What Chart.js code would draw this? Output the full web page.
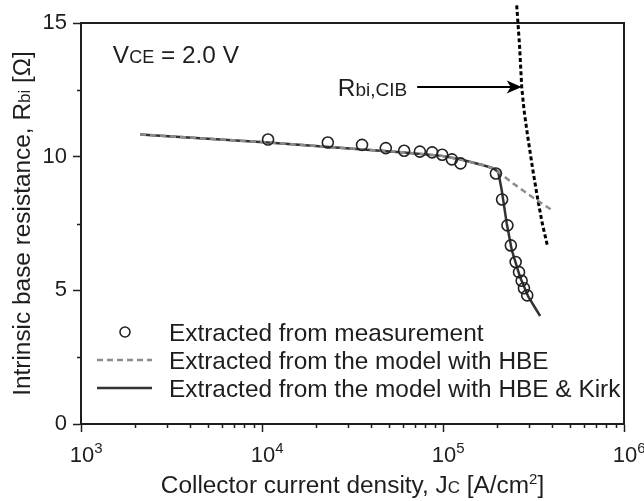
<!DOCTYPE html>
<html>
<head>
<meta charset="utf-8">
<script src="https://cdn.jsdelivr.net/npm/chart.js@4.4.1/dist/chart.umd.min.js"></script>
<style>
    html, body { margin: 0; padding: 0; background: #fff; }
    #wrap { width: 644px; height: 501px; position: relative; }
</style>
</head>
<body>
<div id="wrap"><canvas id="Chart"></canvas></div>
<script>
// measured points, Jc in A/cm2, Rbi in ohm
var measJc = [10800, 23100, 35700, 48300, 61000, 74500, 87100, 99000, 112000, 125000,
    196000, 212000, 227000, 237000, 252000, 263000, 272000, 280000, 292000];
var measRbi = [10.64, 10.53, 10.44, 10.32, 10.22, 10.19, 10.16, 10.07, 9.90, 9.75,
    9.37, 8.40, 7.43, 6.68, 6.06, 5.68, 5.36, 5.08, 4.81];

// model with high-current base effect only
var hbeJc = [2120, 10800, 60800, 98600, 124000, 167000, 190000, 202000, 244000, 330000, 407000];
var hbeRbi = [10.83, 10.53, 10.16, 10.03, 9.90, 9.68, 9.56, 9.43, 9.00, 8.37, 7.97];

// model with HBE and Kirk effect
var kirkJc = [2120, 10800, 60800, 98600, 124000, 167000, 190000, 202000, 211000, 225000,
    240000, 266000, 296000, 344000];
var kirkRbi = [10.83, 10.53, 10.16, 10.03, 9.90, 9.68, 9.56, 9.43, 8.75, 7.50,
    6.50, 5.51, 4.76, 4.04];

// current-induced base pushout curve
var cibJc = [255400, 264700, 272200, 280300, 293100, 312400, 330800, 352400, 378000];
var cibRbi = [15.66, 14.17, 12.61, 11.74, 10.80, 9.57, 8.56, 7.55, 6.65];

var seriesNames = [
    'Extracted from measurement',
    'Extracted from the model with HBE',
    'Extracted from the model with HBE & Kirk'
];

var xTickValues = [1e3, 1e4, 1e5, 1e6];
var xTickExponents = ['3', '4', '5', '6'];
var yTickValues = [0, 5, 10, 15];
var yMinorTicks = [2.5, 7.5, 12.5];

var FONT = '"Liberation Sans", Arial, Helvetica, sans-serif';
var INK = '#1e1e1e';
var TEXT = 24.4;

Chart.defaults.font.family = FONT;
Chart.defaults.color = INK;

function points(xs, ys) {
    return xs.map(function (x, i) { return { x: x, y: ys[i] }; });
}

// draws a line of text made of runs [text, size, rise]
function drawRuns(ctx, runs, x, y, align) {
    var total = 0;
    runs.forEach(function (r) {
        ctx.font = r[1] + 'px ' + FONT;
        total += ctx.measureText(r[0]).width;
    });
    var cx = align === 'center' ? x - total / 2 : (align === 'right' ? x - total : x);
    ctx.textAlign = 'left';
    ctx.textBaseline = 'alphabetic';
    runs.forEach(function (r) {
        ctx.font = r[1] + 'px ' + FONT;
        ctx.fillText(r[0], cx, y - (r[2] || 0));
        cx += ctx.measureText(r[0]).width;
    });
}

var decorations = {
    id: 'decorations',
    beforeDatasetsDraw: function (chart) {
        var ctx = chart.ctx, area = chart.chartArea;
        var xs = chart.scales.x, ys = chart.scales.y;
        ctx.save();
        ctx.strokeStyle = INK;
        ctx.lineWidth = 2;
        ctx.strokeRect(area.left, area.top, area.right - area.left, area.bottom - area.top);

        // minor ticks
        ctx.lineWidth = 1.5;
        ctx.beginPath();
        for (var e = 3; e < 6; e++) {
            for (var k = 2; k < 10; k++) {
                var px = Math.round(xs.getPixelForValue(k * Math.pow(10, e))) + 0.5;
                ctx.moveTo(px, area.bottom);
                ctx.lineTo(px, area.bottom + 4);
            }
        }
        yMinorTicks.forEach(function (v) {
            var py = Math.round(ys.getPixelForValue(v)) + 0.5;
            ctx.moveTo(area.left - 4, py);
            ctx.lineTo(area.left, py);
        });
        ctx.stroke();
        ctx.restore();
    },
    afterDraw: function (chart) {
        var ctx = chart.ctx, area = chart.chartArea;
        var xs = chart.scales.x, ys = chart.scales.y;
        var sets = chart.data.datasets;
        ctx.save();
        ctx.fillStyle = INK;

        // decade labels, "10" centred on the tick with a raised exponent
        xTickValues.forEach(function (v, i) {
            var px = xs.getPixelForValue(v);
            ctx.font = '22px ' + FONT;
            var w = ctx.measureText('10').width;
            drawRuns(ctx, [['10', 22], [xTickExponents[i], 15, 9]], px - w / 2 + 1, area.bottom + 38, 'left');
        });

        // axis titles
        drawRuns(ctx, [['Collector current density, J', TEXT], ['C', 17], [' [A/cm', TEXT], ['2', 15, 9], [']', TEXT]],
            (area.left + area.right) / 2, 493, 'center');
        ctx.save();
        ctx.translate(30, (area.top + area.bottom) / 2);
        ctx.rotate(-Math.PI / 2);
        drawRuns(ctx, [['Intrinsic base resistance, R', TEXT], ['bi', 17], [' [\u03a9]', TEXT]], 0, 0, 'center');
        ctx.restore();

        // operating point label
        drawRuns(ctx, [['V', TEXT], ['CE', 18], [' = 2.0 V', TEXT]],
            xs.getPixelForValue(1500), ys.getPixelForValue(13.5), 'left');

        // arrow to the CIB curve
        var tipX = xs.getPixelForValue(cibJc[2]);
        var tipY = ys.getPixelForValue(cibRbi[2]);
        var tailX = xs.getPixelForValue(7.2e4);
        ctx.strokeStyle = '#000';
        ctx.fillStyle = '#000';
        ctx.lineWidth = 2;
        ctx.beginPath();
        ctx.moveTo(tailX, tipY);
        ctx.lineTo(tipX - 10, tipY);
        ctx.stroke();
        ctx.beginPath();
        ctx.moveTo(tipX, tipY);
        ctx.lineTo(tipX - 15, tipY - 6.5);
        ctx.lineTo(tipX - 11, tipY);
        ctx.lineTo(tipX - 15, tipY + 6.5);
        ctx.closePath();
        ctx.fill();
        ctx.fillStyle = INK;
        drawRuns(ctx, [['R', TEXT], ['bi,CIB', 19]], tailX - 10, tipY + 9, 'right');

        // legend
        var rows = [area.bottom - 92, area.bottom - 64, area.bottom - 36];
        var x0 = area.left + 16, x1 = area.left + 71;
        ctx.strokeStyle = sets[0].pointBorderColor;
        ctx.lineWidth = sets[0].pointBorderWidth;
        ctx.beginPath();
        ctx.arc(area.left + 44, rows[0], 5, 0, Math.PI * 2);
        ctx.stroke();
        [1, 2].forEach(function (i) {
            ctx.strokeStyle = sets[i].borderColor;
            ctx.lineWidth = sets[i].borderWidth;
            ctx.setLineDash(sets[i].borderDash || []);
            ctx.beginPath();
            ctx.moveTo(x0, rows[i]);
            ctx.lineTo(x1, rows[i]);
            ctx.stroke();
        });
        ctx.setLineDash([]);
        ctx.fillStyle = INK;
        seriesNames.forEach(function (name, i) {
            drawRuns(ctx, [[name, TEXT]], area.left + 88, rows[i] + 8.5, 'left');
        });
        ctx.restore();
    }
};

new Chart(document.getElementById('Chart').getContext('2d'), {
    type: 'scatter',
    data: {
        datasets: [
            {
                label: seriesNames[0],
                data: points(measJc, measRbi),
                showLine: false,
                pointStyle: 'circle',
                pointRadius: 5.5,
                pointBorderWidth: 1.6,
                pointBorderColor: '#222',
                pointBackgroundColor: 'rgba(0,0,0,0)'
            },
            {
                label: seriesNames[1],
                data: points(hbeJc, hbeRbi),
                showLine: true,
                pointRadius: 0,
                borderColor: '#8c8c8c',
                borderWidth: 2.5,
                borderDash: [6, 4]
            },
            {
                label: seriesNames[2],
                data: points(kirkJc, kirkRbi),
                showLine: true,
                pointRadius: 0,
                borderColor: '#333',
                borderWidth: 2.5
            },
            {
                label: 'Rbi,CIB',
                data: points(cibJc, cibRbi),
                showLine: true,
                pointRadius: 0,
                borderColor: '#000',
                borderWidth: 3,
                borderDash: [4, 2.6],
                clip: false
            }
        ]
    },
    options: {
        responsive: true,
        maintainAspectRatio: false,
        animation: false,
        layout: { padding: { top: 23, right: 20, left: 0, bottom: 0 } },
        plugins: {
            legend: { display: false },
            tooltip: { enabled: false }
        },
        scales: {
            x: {
                type: 'logarithmic',
                min: 1e3,
                max: 1e6,
                afterBuildTicks: function (scale) {
                    scale.ticks = xTickValues.map(function (v) { return { value: v }; });
                },
                afterFit: function (scale) { scale.height = 77; },
                ticks: {
                    autoSkip: false,
                    maxRotation: 0,
                    callback: function () { return ''; }
                },
                grid: { drawOnChartArea: false, tickLength: 8, tickWidth: 1.5, tickColor: INK },
                border: { color: INK, width: 2 }
            },
            y: {
                min: 0,
                max: 15,
                afterBuildTicks: function (scale) {
                    scale.ticks = yTickValues.map(function (v) { return { value: v }; });
                },
                afterFit: function (scale) { scale.width = 81; },
                ticks: { padding: 6, font: { size: 22 }, color: INK },
                grid: { drawOnChartArea: false, tickLength: 8, tickWidth: 1.5, tickColor: INK },
                border: { color: INK, width: 2 }
            }
        }
    },
    plugins: [decorations]
});
</script>
</body>
</html>
